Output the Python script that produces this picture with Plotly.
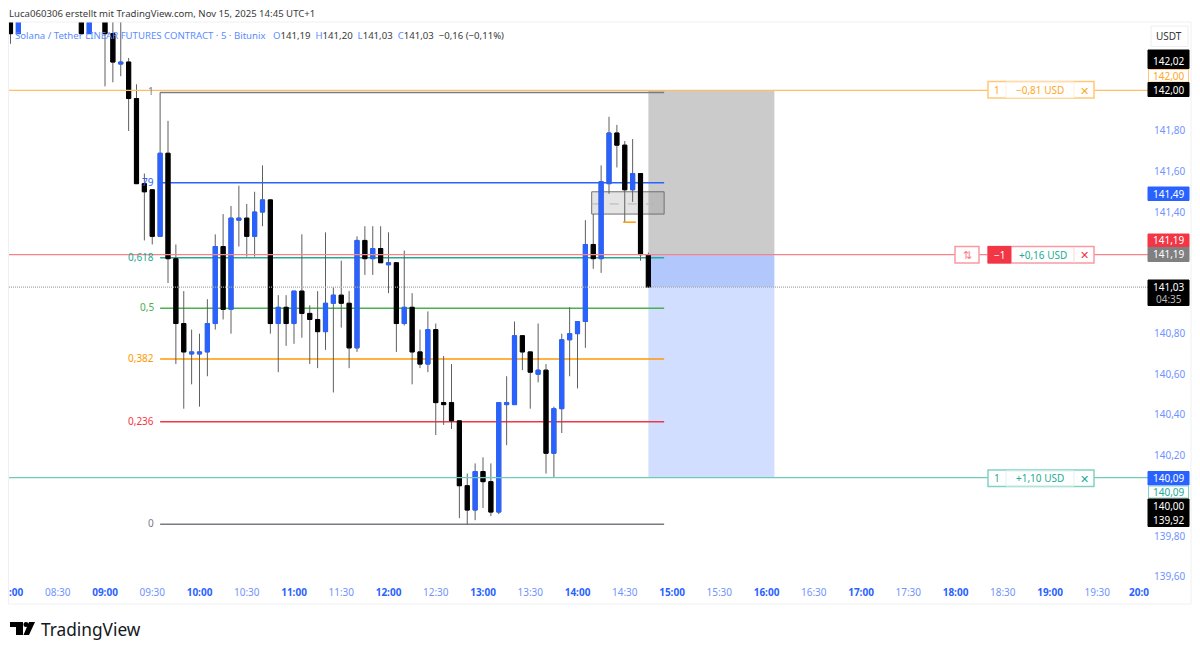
import pandas as pd
import plotly.graph_objects as go

FONT = "Noto Sans"
BLUE = "#2962ff"

# candles, 5 min, first one is 08:00. None = above the visible range
first_candle = "2025-11-15 08:00"
opens = [142.40, 142.28, None, None, None, None, None, None, None, 142.40, 142.28, None,
         142.40, 142.28, 142.13, 142.14, 141.96, 141.54, 141.51, 141.28, 141.69, 141.17,
         140.85, 140.70, 140.70, 140.71, 140.85, 141.23, 140.92, 141.36, 141.37, 141.28,
         141.40, 141.46, 140.85, 140.93, 140.85, 141.01, 140.90, 140.87, 140.81, 140.95,
         140.99, 140.95, 140.73, 141.26, 141.17, 141.22, 141.14, 141.15, 140.85, 140.93,
         140.71, 140.65, 140.82, 140.46, 140.46, 140.37, 140.05, 139.93, 140.12, 140.07,
         139.92, 140.45, 140.45, 140.79, 140.71, 140.60, 140.62, 140.21, 140.43, 140.77,
         140.80, 140.86, 141.24, 141.17, 141.54, 141.79, 141.73, 141.51, 141.59, 141.19]
highs = [142.45, 142.45, None, None, None, None, None, None, None, 142.45, 142.45, None,
         142.45, 142.40, 142.40, 142.16, 142.03, 141.59, 141.51, 141.99, 141.85, 141.24,
         141.01, 140.82, 140.80, 140.97, 141.29, 141.39, 141.43, 141.53, 141.44, 141.50,
         141.63, 141.46, 140.99, 140.99, 141.01, 141.29, 140.94, 141.01, 141.30, 141.03,
         141.16, 141.01, 141.28, 141.33, 141.33, 141.33, 141.30, 141.15, 141.21, 141.00,
         140.82, 140.91, 140.85, 140.69, 140.65, 140.37, 140.11, 140.16, 140.19, 140.16,
         140.46, 140.59, 140.86, 140.79, 140.71, 140.85, 140.65, 140.44, 140.80, 140.93,
         140.86, 141.36, 141.39, 141.63, 141.87, 141.83, 141.75, 141.76, 141.59, 141.20]
lows = [142.23, 142.28, None, None, None, None, None, None, None, 142.28, 142.28, None,
        142.02, 142.04, 142.07, 141.80, 141.54, 141.26, 141.24, 141.28, 141.05, 140.65,
        140.43, 140.55, 140.44, 140.59, 140.82, 140.87, 140.80, 141.23, 141.18, 141.18,
        141.33, 140.80, 140.61, 140.74, 140.75, 140.78, 140.65, 140.63, 140.72, 140.51,
        140.83, 140.63, 140.71, 141.09, 141.09, 141.15, 141.00, 140.71, 140.84, 140.55,
        140.63, 140.61, 140.30, 140.35, 140.33, 139.89, 139.86, 139.88, 139.94, 139.90,
        139.91, 140.25, 140.45, 140.62, 140.43, 140.56, 140.11, 140.09, 140.31, 140.59,
        140.53, 140.73, 141.12, 141.10, 141.49, 141.62, 141.35, 141.45, 141.16, 141.03]
closes = [142.28, 142.40, None, None, None, None, None, None, None, 142.28, 142.40, None,
          142.28, 142.14, 142.14, 141.96, 141.54, 141.50, 141.28, 141.69, 141.17, 140.85,
          140.71, 140.71, 140.71, 140.85, 141.23, 140.92, 141.37, 141.37, 141.28, 141.40,
          141.46, 140.85, 140.93, 140.85, 141.01, 140.90, 140.87, 140.81, 140.95, 140.99,
          140.95, 140.73, 141.26, 141.17, 141.22, 141.15, 141.15, 140.85, 140.93, 140.71,
          140.65, 140.82, 140.46, 140.45, 140.37, 140.05, 139.93, 140.12, 140.07, 139.92,
          140.46, 140.46, 140.79, 140.71, 140.61, 140.62, 140.21, 140.43, 140.77, 140.80,
          140.86, 141.24, 141.17, 141.55, 141.79, 141.73, 141.51, 141.59, 141.19, 141.03]

# fib retracement
fib_labels = ["1", "79", "0,618", "0,5", "0,382", "0,236", "0"]
fib_prices = [141.99, 141.545, 141.175, 140.925, 140.675, 140.365, 139.86]
fib_colors = ["#787b86", BLUE, "#22ab94", "#4caf50", "#ff9800", "#f23645", "#787b86"]

# axis ticks
price_ticks = [141.80, 141.60, 141.40, 140.80, 140.60, 140.40, 140.20, 139.80, 139.60]
price_tick_text = ["141,80", "141,60", "141,40", "140,80", "140,60", "140,40", "140,20", "139,80", "139,60"]
time_ticks = ["08:30", "09:00", "09:30", "10:00", "10:30", "11:00", "11:30", "12:00", "12:30", "13:00", "13:30",
              "14:00", "14:30", "15:00", "15:30", "16:00", "16:30", "17:00", "17:30", "18:00", "18:30", "19:00",
              "19:30"]

# position tool
stop_price = 142.00
entry_price = 141.19
last_price = 141.03
target_price = 140.09


def day(t):
    return "2025-11-15 " + t


# pixel layout of the plot area
L, R, T, B = 9, 1148, 22, 582


def fx(px):
    return (px - L) / (R - L)


def fy(py):
    return (B - py) / (B - T)


times = pd.date_range(first_candle, periods=len(opens), freq="5min")
body_high = [None if o is None else max(o, c) for o, c in zip(opens, closes)]
body_low = [None if o is None else min(o, c) for o, c in zip(opens, closes)]

fig = go.Figure()
# wicks first, then the bodies on top so the outline keeps the body colour
fig.add_trace(go.Candlestick(x=times, open=opens, high=highs, low=lows, close=closes, whiskerwidth=0,
                             increasing=dict(line=dict(color="#5f5f5f", width=1), fillcolor="rgba(0,0,0,0)"),
                             decreasing=dict(line=dict(color="#5f5f5f", width=1), fillcolor="rgba(0,0,0,0)"),
                             showlegend=False))
fig.add_trace(go.Candlestick(x=times, open=opens, high=body_high, low=body_low, close=closes, whiskerwidth=0,
                             increasing=dict(line=dict(color=BLUE, width=1), fillcolor=BLUE),
                             decreasing=dict(line=dict(color="#000000", width=1), fillcolor="#000000"),
                             showlegend=False))

shapes = []
annotations = []


def rect(x0, y0, x1, y1, fill=None, line=None, width=1):
    # pixel rectangle, drawn on top
    shapes.append(dict(type="rect", xref="paper", yref="paper", x0=fx(x0), x1=fx(x1), y0=fy(y0), y1=fy(y1),
                       fillcolor=fill or "rgba(0,0,0,0)", line=dict(color=line or "rgba(0,0,0,0)", width=width)))


def text(x, y, s, color="#131722", size=10, anchor="center", bold=False):
    if bold:
        s = "<b>" + s + "</b>"
    annotations.append(dict(xref="paper", yref="paper", x=fx(x), y=fy(y), text=s, showarrow=False, xanchor=anchor,
                            yanchor="middle", xshift=0, font=dict(family=FONT, size=size, color=color)))


# position areas
shapes.append(dict(type="rect", layer="below", x0=day("14:45"), x1=day("16:05"), y0=entry_price, y1=stop_price,
                   fillcolor="#cbcbcb", line_width=0))
shapes.append(dict(type="rect", layer="below", x0=day("14:45"), x1=day("16:05"), y0=last_price, y1=entry_price,
                   fillcolor="#b2c8fd", line_width=0))
shapes.append(dict(type="rect", layer="below", x0=day("14:45"), x1=day("16:05"), y0=target_price, y1=last_price,
                   fillcolor="#d1deff", line_width=0))

# fib lines and labels
for lab, p, c in zip(fib_labels, fib_prices, fib_colors):
    shapes.append(dict(type="line", layer="below", x0=day("09:35"), x1=day("14:55"), y0=p, y1=p,
                       line=dict(color=c, width=1.5)))
    annotations.append(dict(x=day("09:35"), y=p, text=lab, showarrow=False, xanchor="right", xshift=-4, yshift=1,
                            font=dict(family=FONT, size=10, color=c)))

# grey box with dashed middle, small orange line
shapes.append(dict(type="rect", layer="below", x0=day("14:09"), x1=day("14:55"), y0=141.39, y1=141.50,
                   fillcolor="rgba(120,120,120,0.2)", line=dict(color="#707070", width=1)))
shapes.append(dict(type="line", layer="below", x0=day("14:09"), x1=day("14:55"), y0=141.44, y1=141.44,
                   line=dict(color="#b5b5b5", width=1, dash="dash")))
shapes.append(dict(type="line", x0=day("14:29"), x1=day("14:37"), y0=141.35, y1=141.35,
                   line=dict(color="#ff9800", width=1.5)))

# price lines across the pane
for p, c, d in [(stop_price, "#ffbd66", "solid"), (entry_price, "#f7828c", "solid"),
                (target_price, "#6fcab8", "solid"), (last_price, "#a8a8a8", "1px,1px")]:
    shapes.append(dict(type="line", xref="paper", x0=0, x1=1, y0=p, y1=p, line=dict(color=c, width=1.2, dash=d)))

# order boxes
ORANGE = "#ffa726"
TEAL = "#22ab94"
RED = "#f23645"
rect(988, 81.5, 1094, 98, "#ffffff", "#ffc777", 1.5)
rect(1006, 82, 1074, 97.5, None, "#fff0dc", 1)
text(997, 90, "1", ORANGE)
text(1040, 90, "−0,81 USD", ORANGE)
text(1084, 90, "✕", ORANGE, 11)

rect(955, 246.5, 979, 263, "#ffffff", "#f99aa3", 1.5)
text(967, 255, "⇅", "#f77c80", 11)
rect(988, 246.5, 1094, 263, "#ffffff", "#f99aa3", 1.5)
rect(988, 246.5, 1011, 263, RED, RED, 1)
rect(1074, 247, 1074, 262.5, None, "#fde3e5", 1)
text(999.5, 255, "−1", "#ffffff")
text(1043, 255, "+0,16 USD", TEAL)
text(1084, 255, "✕", RED, 11)

rect(988, 470, 1094, 486.5, "#ffffff", "#82d2c3", 1.5)
rect(1006, 471, 1074, 486, None, "#dff4f0", 1)
text(997, 478, "1", TEAL)
text(1040, 478, "+1,10 USD", TEAL)
text(1084, 478, "✕", TEAL, 11)

# labels on the price scale
rect(1148, 50, 1189, 68.5, "#000000", "#000000")
text(1168.5, 61, "142,02", "#ffffff")
rect(1148.5, 69.5, 1188.5, 82, "#ffffff", "#ffc777", 1)
text(1168.5, 75.5, "142,00", ORANGE)
rect(1148, 82.5, 1189, 96.5, "#000000", "#000000")
text(1168.5, 89.5, "142,00", "#ffffff")
rect(1148, 187, 1189, 200.5, BLUE, BLUE)
text(1168.5, 193.5, "141,49", "#ffffff")
rect(1148, 234, 1189, 247.5, RED, RED)
text(1168.5, 240.5, "141,19", "#ffffff")
rect(1148, 247.5, 1189, 261.5, "#808080", "#808080")
text(1168.5, 254.5, "141,19", "#ffffff")
rect(1148, 280, 1189, 305.5, "#000000", "#000000")
text(1168.5, 286.5, "141,03", "#ffffff")
text(1168.5, 298.5, "04:35", "#b8b8b8")
rect(1148, 471.5, 1189, 485, BLUE, BLUE)
text(1168.5, 478, "140,09", "#ffffff")
rect(1148.5, 486, 1188.5, 498, "#ffffff", "#82d2c3", 1)
text(1168.5, 492, "140,09", TEAL)
rect(1148, 499, 1189, 526.5, "#000000", "#000000")
text(1168.5, 505.5, "140,00", "#ffffff")
text(1168.5, 519.5, "139,92", "#ffffff")
rect(1151, 26, 1188, 46.5, "#ffffff", "#eceef2", 1)
text(1169, 36, "USDT", "#333333")

# clipped labels at both ends of the time scale
text(16, 592, ":00", BLUE, 10, bold=True)
text(1139, 592, "20:0", BLUE, 10, bold=True)

# frame
rect(8.5, 22, 1191, 604, None, "#eef0f4", 1)

# header and legend
text(7, 13, "Luca060306 erstellt mit TradingView.com, Nov 15, 2025 14:45 UTC+1", "#3a3a3a", 9.6, "left")
legend_blue = "<span style='color:#5b8cff'>%s</span>"
legend = (legend_blue % "Solana / Tether LINEAR FUTURES CONTRACT · 5 · Bitunix" + "   "
          + legend_blue % "O" + "141,19  " + legend_blue % "H" + "141,20  " + legend_blue % "L" + "141,03  "
          + legend_blue % "C" + "141,03  −0,16 (−0,11%)")
text(13, 35, legend, "#3a3a3a", 9.6, "left")

# logo
def path(points):
    return "M " + " L ".join("%f %f" % (fx(x), fy(y)) for x, y in points) + " Z"


for pts in [[(10, 622), (23, 622), (23, 635), (16, 635), (16, 627), (10, 627)],
            [(29, 622), (35, 622), (29, 635), (23.5, 635)]]:
    shapes.append(dict(type="path", xref="paper", yref="paper", path=path(pts), fillcolor="#000000", line_width=0))
shapes.append(dict(type="circle", xref="paper", yref="paper", x0=fx(23.5), x1=fx(28.5), y0=fy(622), y1=fy(627),
                   fillcolor="#000000", line_width=0))
text(39, 629, "TradingView", "#131722", 17.3, "left")

fig.update_layout(
    width=1200, height=654,
    margin=dict(l=L, r=1200 - R, t=T, b=654 - B, pad=0),
    paper_bgcolor="#ffffff", plot_bgcolor="#ffffff",
    showlegend=False, boxmode="overlay", boxgap=0.25,
    shapes=shapes, annotations=annotations,
    font=dict(family=FONT),
    xaxis=dict(type="date", range=["2025-11-15 07:59:03", "2025-11-15 20:02:13"], showgrid=False, zeroline=False,
               rangeslider=dict(visible=False), showline=False, ticks="outside", ticklen=1, tickcolor="#ffffff",
               tickmode="array", tickvals=[day(t) for t in time_ticks],
               ticktext=["<b>%s</b>" % t if t.endswith(":00") else "<span style='color:#6f93ff'>%s</span>" % t
                         for t in time_ticks],
               tickfont=dict(family=FONT, size=10, color=BLUE)),
    yaxis=dict(range=[139.575, 142.3375], side="right", showgrid=False, zeroline=False, showline=False,
               ticks="outside", ticklen=3, tickcolor="#ffffff", tickmode="array", tickvals=price_ticks,
               ticktext=price_tick_text, tickfont=dict(family=FONT, size=10, color="#6f93ff")),
)

# the page's default body margin would push the whole chart 8px off
fig.write_html("out.html", config={"displayModeBar": False}, post_script="document.body.style.margin='0';")
